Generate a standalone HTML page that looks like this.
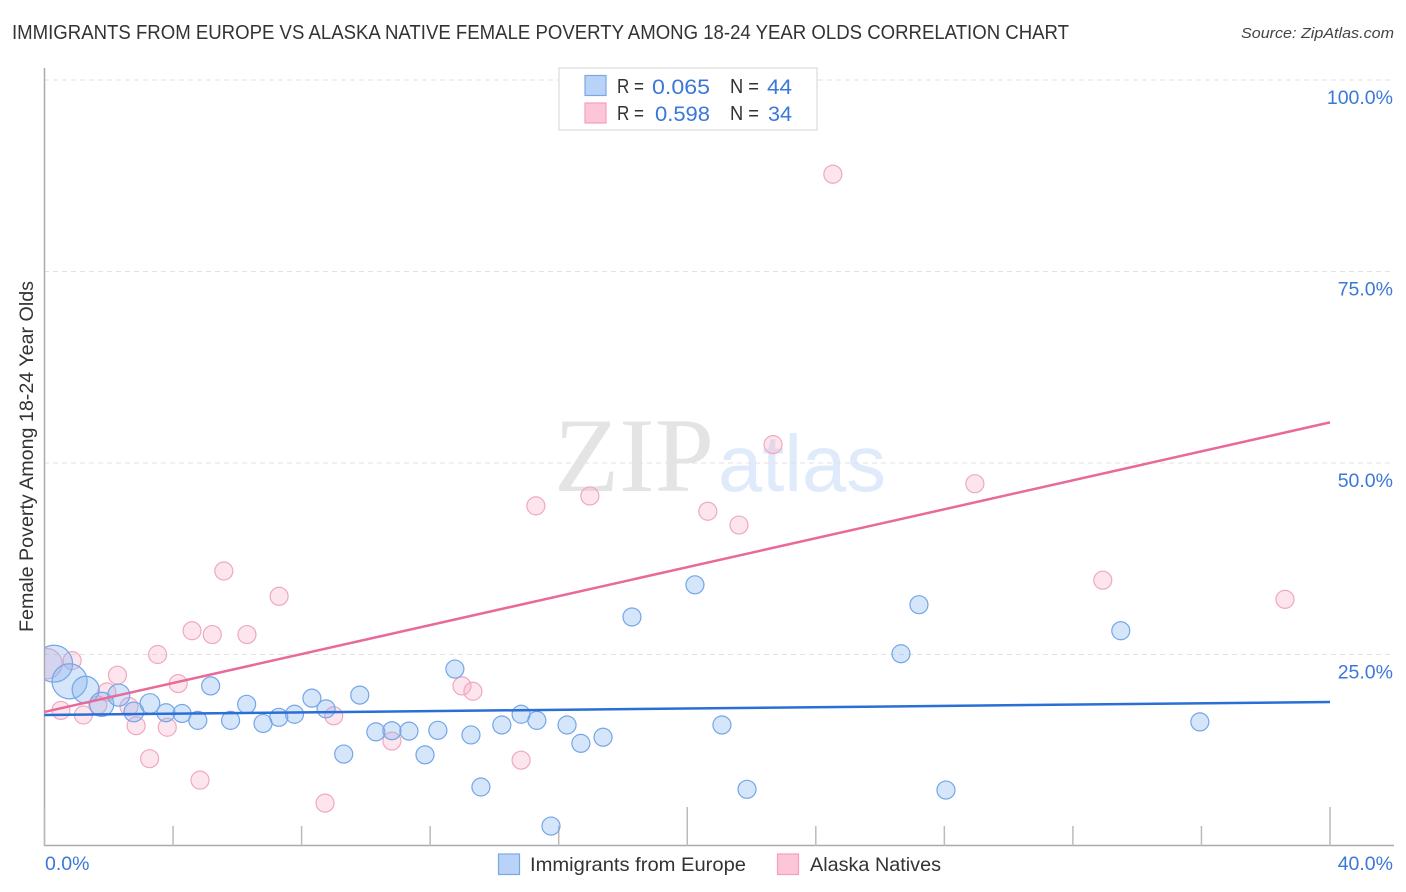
<!DOCTYPE html>
<html lang="en">
<head>
<meta charset="utf-8">
<title>Immigrants from Europe vs Alaska Native Female Poverty Chart</title>
<style>
html,body{margin:0;padding:0;background:#fff;width:1406px;height:892px;overflow:hidden}
svg{display:block}
text{font-family:"Liberation Sans",sans-serif}
</style>
</head>
<body>
<svg id="chart" xmlns="http://www.w3.org/2000/svg" width="1406" height="892" viewBox="0 0 1406 892">
  <defs><clipPath id="plot-clip"><rect x="45" y="60" width="1350" height="786"/></clipPath></defs>
  <text x="12" y="39" font-size="20" fill="#333" textLength="1057" lengthAdjust="spacingAndGlyphs">IMMIGRANTS FROM EUROPE VS ALASKA NATIVE FEMALE POVERTY AMONG 18-24 YEAR OLDS CORRELATION CHART</text>
  <text x="1394" y="38" font-size="15" font-style="italic" fill="#444" text-anchor="end" textLength="153" lengthAdjust="spacingAndGlyphs">Source: ZipAtlas.com</text>
  <g>
    <text x="554" y="491" font-size="106" fill="#e4e4e4" style="font-family:'Liberation Serif',serif" textLength="160" lengthAdjust="spacingAndGlyphs">ZIP</text>
    <text x="718" y="491" font-size="80" fill="#dfeafa" textLength="168" lengthAdjust="spacingAndGlyphs">atlas</text>
  </g>
  <g id="grid"></g>
  <g id="axes"></g>
  <g id="marks-pink" clip-path="url(#plot-clip)"></g>
  <g id="marks-blue" clip-path="url(#plot-clip)"></g>
  <g id="trends"></g>
  <text transform="translate(33,632) rotate(-90)" font-size="19" fill="#333" textLength="351" lengthAdjust="spacingAndGlyphs">Female Poverty Among 18-24 Year Olds</text>

  <g>
    <rect x="559" y="68" width="258" height="62" fill="#fff" stroke="#e2e2e2" stroke-width="1.5"/>
    <rect x="585" y="75.500" width="21" height="20" fill="#b9d3f8" stroke="#78a9e6" stroke-width="1.200"/>
    <rect x="585" y="103" width="21" height="20" fill="#fdc6d8" stroke="#f2a0b9" stroke-width="1.200"/>
    <text x="617" y="93" font-size="20" fill="#333" textLength="27" lengthAdjust="spacingAndGlyphs">R =</text>
    <text x="652" y="94" font-size="21" fill="#3b78d8" textLength="58" lengthAdjust="spacingAndGlyphs">0.065</text>
    <text x="730" y="93" font-size="20" fill="#333" textLength="29" lengthAdjust="spacingAndGlyphs">N =</text>
    <text x="767" y="94" font-size="21" fill="#3b78d8" textLength="25" lengthAdjust="spacingAndGlyphs">44</text>
    <text x="617" y="120" font-size="20" fill="#333" textLength="27" lengthAdjust="spacingAndGlyphs">R =</text>
    <text x="655" y="121" font-size="21" fill="#3b78d8" textLength="55" lengthAdjust="spacingAndGlyphs">0.598</text>
    <text x="730" y="120" font-size="20" fill="#333" textLength="29" lengthAdjust="spacingAndGlyphs">N =</text>
    <text x="768" y="121" font-size="21" fill="#3b78d8" textLength="24" lengthAdjust="spacingAndGlyphs">34</text>
  </g>

  <g>
    <rect x="498.500" y="854" width="21" height="20.500" fill="#b9d3f8" stroke="#78a9e6" stroke-width="1.200"/>
    <text x="530" y="871" font-size="19.500" fill="#333" textLength="216" lengthAdjust="spacingAndGlyphs">Immigrants from Europe</text>
    <rect x="777.500" y="854" width="21" height="20.500" fill="#fdc6d8" stroke="#f2a0b9" stroke-width="1.200"/>
    <text x="810" y="871" font-size="19.500" fill="#333" textLength="131" lengthAdjust="spacingAndGlyphs">Alaska Natives</text>
  </g>
</svg>
<script>
var xTickValues = [0, 4, 8, 12, 16, 20, 24, 28, 32, 36, 40];
var xMajorTicks = [0, 20, 40];
var xTickLabels = ["0.0%", "40.0%"];
var yTickValues = [25, 50, 75, 100];
var yTickLabels = ["25.0%", "50.0%", "75.0%", "100.0%"];

var blueX = [0.30,0.78,1.28,1.78,2.31,2.78,3.28,3.78,4.28,4.77,5.17,5.79,6.29,6.80,7.29,7.78,8.32,8.76,9.31,9.81,10.31,10.81,11.34,12.24,11.84,12.77,13.27,13.58,14.23,14.83,15.32,15.76,16.26,16.69,17.38,18.28,20.24,21.08,21.86,26.65,27.21,28.05,33.49,35.95];
var blueY = [23.8,21.5,20.4,18.5,19.7,17.5,18.6,17.4,17.3,16.4,20.9,16.4,18.5,16.0,16.8,17.2,19.3,17.9,12.0,19.7,14.9,15.05,15.0,15.1,11.9,23.1,14.5,7.7,15.8,17.2,16.4,2.6,15.8,13.4,14.2,29.9,34.1,15.8,7.4,25.1,31.5,7.3,28.1,16.2];
var blueWeight = [4.2,3.8,2.25,1.8,1.5,1.2,1.2,1,1,1,1,1,1,1,1,1,1,1,1,1,1,1,1,1,1,1,1,1,1,1,1,1,1,1,1,1,1,1,1,1,1,1,1,1];

var pinkX = [0.08,0.86,2.27,3.52,4.16,4.59,5.22,6.30,1.94,0.51,1.21,1.66,2.63,2.85,3.82,3.27,4.84,8.73,9.00,10.81,5.58,7.30,12.99,13.33,14.83,15.29,16.97,20.64,21.61,22.67,24.53,28.95,32.93,38.60];
var pinkY = [23.8,24.2,22.3,25.0,21.2,28.1,27.6,27.6,20.1,17.7,17.1,18.4,18.2,15.7,15.5,11.4,8.6,5.6,17.0,13.7,35.9,32.6,20.9,20.2,11.2,44.4,45.7,43.7,41.9,52.4,87.7,47.3,34.7,32.2];
var pinkWeight = [2.8,1,1,1,1,1,1,1,1,1,1,1,1,1,1,1,1,1,1,1,1,1,1,1,1,1,1,1,1,1,1,1,1,1];

var blueTrend = [17.1, 18.8];
var pinkTrend = [17.5, 55.3];
var trendDomain = [0, 40];

var NS = "http://www.w3.org/2000/svg";
function sx(v){ return 44.5 + v * (1330 - 44.5) / 40; }
function sy(v){ return 846 - v * (846 - 80) / 100; }
function sr(w){ return 9 * Math.sqrt(w); }
function make(parent, tag, attrs){
  var el = document.createElementNS(NS, tag);
  for (var k in attrs) el.setAttribute(k, attrs[k]);
  parent.appendChild(el);
  return el;
}
var grid = document.getElementById("grid");
var axes = document.getElementById("axes");

yTickValues.forEach(function(v, i){
  var g = make(grid, "line", {x1:44, x2:1394, y1:sy(v), y2:sy(v), stroke:"#e2e2e2", "stroke-width":1, "stroke-dasharray":"5 4"});
  
  
  var t = make(axes, "text", {x:1393, y:sy(v)+24, "font-size":19.5, fill:"#3b78d8", "text-anchor":"end"});
  
  
  t.textContent = yTickLabels[i];
});

var yAxis = make(axes, "line", {x1:44.5, x2:44.5, y1:68, y2:846, stroke:"#aaa", "stroke-width":1.5});


var xAxis = make(axes, "line", {x1:44, x2:1394, y1:845.5, y2:845.5, stroke:"#aaa", "stroke-width":1.5});



xTickValues.forEach(function(v){
  var major = xMajorTicks.indexOf(v) >= 0;
  var tk = make(axes, "line", {x1:sx(v), x2:sx(v), y1:major ? 807 : 826, y2:846, stroke:"#bbb", "stroke-width":1.5});
  
  
});

var xl0 = make(axes, "text", {x:45, y:870, "font-size":19.5, fill:"#3b78d8"});


xl0.textContent = xTickLabels[0];
var xl1 = make(axes, "text", {x:1393, y:870, "font-size":19.5, fill:"#3b78d8", "text-anchor":"end"});


xl1.textContent = xTickLabels[1];

var pinkLayer = document.getElementById("marks-pink");
pinkX.forEach(function(x, i){
  var c = make(pinkLayer, "circle", {cx:sx(x), cy:sy(pinkY[i]), r:sr(pinkWeight[i]), fill:"rgba(250,170,195,0.3)", stroke:"#f0a8bf", "stroke-width":1.2});
  
  
});
var blueLayer = document.getElementById("marks-blue");
blueX.forEach(function(x, i){
  var c = make(blueLayer, "circle", {cx:sx(x), cy:sy(blueY[i]), r:sr(blueWeight[i]), fill:"rgba(130,180,240,0.33)", stroke:"#74a6e6", "stroke-width":1.2});
  
  
});

var trends = document.getElementById("trends");
var tb = make(trends, "line", {x1:sx(trendDomain[0]), x2:sx(trendDomain[1]), y1:sy(blueTrend[0]), y2:sy(blueTrend[1]), stroke:"#2a6fd6", "stroke-width":2.5});


var tp = make(trends, "line", {x1:sx(trendDomain[0]), x2:sx(trendDomain[1]), y1:sy(pinkTrend[0]), y2:sy(pinkTrend[1]), stroke:"#e8699a", "stroke-width":2.5});


</script>
</body>
</html>
